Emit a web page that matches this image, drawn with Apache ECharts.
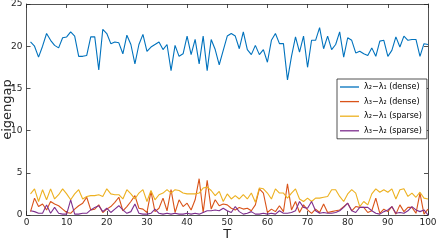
<!DOCTYPE html>
<html><head><meta charset="utf-8">
<script src="https://cdn.jsdelivr.net/npm/echarts@6/dist/echarts.min.js"></script>
<style>html,body{margin:0;padding:0;background:#fff}#c{width:436px;height:241px}</style>
</head><body><div id="c"></div>
<script>
const seriesNames = ['λ₂−λ₁ (dense)', 'λ₃−λ₂ (dense)', 'λ₂−λ₁ (sparse)', 'λ₃−λ₂ (sparse)'];
const denseGap21 = [20.5,20.0,18.7,20.0,21.5,20.7,20.1,19.8,21.0,21.1,21.7,21.2,18.8,18.8,18.9,21.1,21.1,17.2,22.0,21.5,
20.3,20.5,20.4,19.1,21.3,20.2,17.9,20.2,21.4,19.4,19.9,20.2,20.5,19.6,20.2,17.1,20.1,18.8,19.1,21.2,
19.0,20.8,17.9,21.2,17.1,20.8,19.6,17.8,19.5,21.2,21.5,21.2,19.7,21.7,19.6,19.0,20.1,19.0,19.6,18.1,
20.7,21.5,20.3,20.3,16.0,18.8,21.1,19.3,21.2,17.5,20.7,20.7,22.2,19.7,21.2,19.6,20.2,21.7,18.7,21.0,
20.7,19.2,19.4,19.1,18.9,19.8,18.8,20.6,20.7,18.8,19.5,21.1,19.9,21.2,20.7,20.8,20.8,18.8,20.3,20.2];
const denseGap32 = [0.4,2.0,1.0,1.3,0.6,1.6,1.3,1.1,0.7,0.3,0.2,0.7,1.1,1.4,2.1,0.6,0.7,1.2,0.3,0.7,
1.0,1.5,2.1,0.5,1.0,1.6,2.3,0.8,0.7,0.3,2.8,0.4,0.8,2.0,0.5,3.0,0.3,1.8,1.0,1.4,
0.6,1.8,4.3,0.3,4.1,0.7,1.8,1.1,1.3,1.2,0.8,0.6,0.9,0.7,0.8,0.5,1.2,3.1,2.6,0.3,
0.7,0.4,1.1,0.4,3.7,0.6,1.6,0.3,1.2,0.6,0.2,0.7,0.3,1.3,0.3,0.4,0.5,0.6,1.0,1.4,
0.5,1.0,0.9,0.9,0.3,0.5,2.0,0.2,0.7,0.4,1.0,0.1,1.2,0.4,0.9,0.9,0.2,2.6,0.1,0.7];
const sparseGap21 = [2.5,3.1,1.6,3.0,1.8,3.1,1.9,2.4,3.1,2.5,1.8,2.5,3.0,1.9,2.2,2.3,2.3,2.4,2.2,3.1,
2.5,2.4,2.4,1.9,3.0,2.5,1.9,2.6,3.0,1.6,2.9,1.8,2.4,2.6,3.0,2.6,3.0,2.9,2.6,2.5,
2.5,2.5,2.6,3.2,3.3,2.9,2.3,2.8,1.6,2.5,1.9,2.3,1.9,2.4,1.9,2.6,1.5,3.2,3.1,2.6,
1.9,3.1,2.6,2.6,2.0,2.6,3.1,1.9,1.6,2.0,1.6,2.0,2.0,2.1,2.2,3.0,3.0,2.2,1.6,2.5,
3.0,2.6,1.0,1.6,1.2,2.5,3.1,2.7,3.0,2.7,3.1,1.9,3.0,3.1,2.2,2.6,2.1,2.7,2.0,1.9];
const sparseGap32 = [0.5,0.4,0.2,0.2,1.2,0.2,0.9,0.2,0.1,0.1,1.8,0.1,0.1,0.2,0.2,0.6,0.9,1.1,0.4,0.8,
0.3,0.7,1.1,0.6,0.2,0.4,1.3,0.2,0.1,0.1,0.2,0.7,0.2,0.1,0.2,0.1,0.2,0.1,0.1,0.2,
0.1,0.2,0.1,0.3,0.5,0.5,0.6,0.5,0.8,0.5,0.3,1.0,0.4,0.1,0.2,0.4,0.1,0.1,0.2,0.1,
0.2,0.1,0.5,0.2,0.2,0.3,0.5,1.6,0.9,0.8,1.6,0.5,0.2,0.3,0.2,0.2,0.3,0.5,0.9,1.4,
0.5,0.3,0.9,0.9,0.9,0.5,0.2,0.1,0.4,0.6,1.0,0.2,0.3,0.2,0.5,1.0,0.6,0.4,0.6,0.0];
const xTicks = [0,10,20,30,40,50,60,70,80,90,100];
const yTicks = [0,5,10,15,20,25];

const colors = ['#0072BD','#D95319','#EDB120','#7E2F8E'];
const allData = [denseGap21, denseGap32, sparseGap21, sparseGap32];
const toPairs = arr => arr.map((v,i) => [i+1, v]);

const chart = echarts.init(document.getElementById('c'));
const tickCol = '#262626';
const axisCommon = () => ({
  axisLine:{show:true, onZero:false, lineStyle:{color:tickCol, width:0.8}},
  axisTick:{show:true, inside:true, length:4, lineStyle:{color:tickCol, width:0.8}},
  splitLine:{show:false}
});
chart.setOption({
  animation:false,
  color: colors,
  grid:{left:26.5, right:8, top:4, bottom:26, containLabel:false, outerBoundsMode:'none'},
  legend:{
    orient:'vertical', left:337, top:79,
    data: seriesNames,
    icon:'rect',
    itemWidth:19, itemHeight:1.3, itemGap:4.6,
    padding:[3,5,3,3],
    backgroundColor:'#fff', borderColor:'#262626', borderWidth:0.8,
    textStyle:{fontFamily:'DejaVu Sans', fontSize:8, color:'#000', lineHeight:10}
  },
  xAxis:[
    Object.assign({type:'value', min:0, max:100, interval:10, position:'bottom',
      name:'T', nameLocation:'middle', nameGap:13, nameMoveOverlap:false,
      nameTextStyle:{fontFamily:'DejaVu Sans', fontSize:13, color:'#262626'},
      axisLabel:{fontFamily:'DejaVu Sans', fontSize:9, color:tickCol, margin:3}}, axisCommon()),
    Object.assign({type:'value', min:0, max:100, interval:10, position:'top', axisLabel:{show:false}}, axisCommon())
  ],
  yAxis:[
    Object.assign({type:'value', min:0, max:25, interval:5, position:'left',
      name:'eigengap', nameLocation:'middle', nameGap:12, nameMoveOverlap:false,
      nameTextStyle:{fontFamily:'DejaVu Sans', fontSize:13, color:'#262626'},
      axisLabel:{fontFamily:'DejaVu Sans', fontSize:9, color:tickCol, margin:4}}, axisCommon()),
    Object.assign({type:'value', min:0, max:25, interval:5, position:'right', axisLabel:{show:false}}, axisCommon())
  ],
  series: seriesNames.map((n,i) => ({
    name:n, type:'line', data: toPairs(allData[i]),
    symbol:'none', lineStyle:{width:1.1, color:colors[i]}, itemStyle:{color:colors[i]},
    xAxisIndex:0, yAxisIndex:0
  }))
});
</script></body></html>
